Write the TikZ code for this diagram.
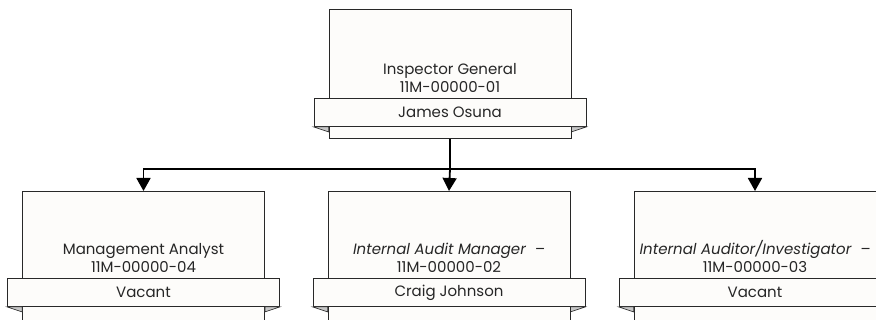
\documentclass[tikz,border=0pt]{standalone}
\usepackage{fontspec}
\setmainfont{Poppins}
\usetikzlibrary{positioning,arrows.meta}
\definecolor{boxfill}{RGB}{253,252,250}
\definecolor{edge}{RGB}{40,40,40}
\tikzset{>={Triangle[length=13pt,width=14pt]},
  post/.style={draw=edge,fill=boxfill,line width=0.9pt,minimum width=242pt,minimum height=129pt,inner sep=0pt},
  ribbon/.style={draw=edge,fill=boxfill,line width=0.9pt,minimum width=272pt,minimum height=28pt,inner sep=0pt,text=black!85,font=\fontsize{15}{17}\selectfont},
  title/.style={align=center,inner sep=0pt,text=black!85,font=\fontsize{15}{18}\selectfont},
  fold/.style={fill=black!22,draw=edge,line width=0.6pt},
  link/.style={line width=1.8pt,->}}

\begin{document}
\begin{tikzpicture}[x=1pt,y=-1pt]
\useasboundingbox (0,0) rectangle (876,320);
\fill[white] (0,0) rectangle (876,320);
\clip (0,0) rectangle (876,320);
% boxes
\node[post,anchor=north] (ig) at (450,9) {};
\node[post,anchor=north] (ma) at (143.5,191) {};
\node[post,anchor=north] (iam) at (449,191) {};
\node[post,anchor=north] (iai) at (755,191) {};
% name ribbons with their folds
\node[ribbon,below=89pt of ig.north] (igname) {James Osuna};
\node[ribbon,below=87pt of ma.north] (maname) {Vacant};
\node[ribbon,below=87pt of iam.north] (iamname) {Craig Johnson};
\node[ribbon,below=87pt of iai.north] (ainame) {Vacant};
\foreach \b/\r in {ig/igname,ma/maname,iam/iamname,iai/ainame}{
  \filldraw[fold] (\r.south west) -- (\b.west |- \r.south) -- ++(0,5) -- cycle;
  \filldraw[fold] (\r.south east) -- (\b.east |- \r.south) -- ++(0,5) -- cycle;
}
% titles
\node[title,above=5pt of igname] (igtitle) {Inspector General\\11M-00000-01};
\node[title,above=5pt of maname] (matitle) {Management Analyst\\11M-00000-04};
\node[title,above=5pt of iamname] (iamtitle) {\textit{Internal Audit Manager~~–}\\11M-00000-02};
\node[title,above=5pt of ainame] (aititle) {\textit{Internal Auditor/Investigator~~–}\\11M-00000-03};
% reporting lines
\coordinate (lvl) at (0,169);
\coordinate (bus) at (ig.south |- lvl);
\draw[line width=1.8pt] (ig.south) -- (bus);
\draw[link] (bus) -| (ma.north);
\draw[link] (bus) -- (iam.north);
\draw[link] (bus) -| (iai.north);
\end{tikzpicture}
\end{document}
